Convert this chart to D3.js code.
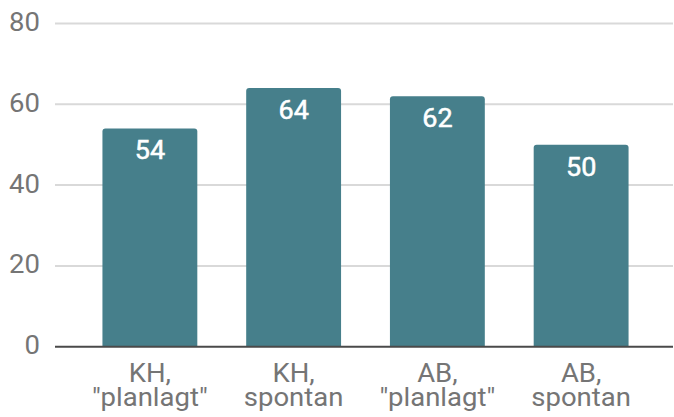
<!DOCTYPE html>
<html><head><meta charset="utf-8">
<script src="https://cdn.jsdelivr.net/npm/d3@7"></script>
<style>body{margin:0;background:#fff;}svg{display:block;font-family:Roboto,sans-serif;}</style>
</head><body>
<svg id="c" width="674" height="417"></svg>
<script>
const categories = [["KH,", "\"planlagt\""], ["KH,", "spontan"], ["AB,", "\"planlagt\""], ["AB,", "spontan"]];
const values = [54, 64, 62, 50];
const yTicks = [0, 20, 40, 60, 80];

const svg = d3.select("#c");
const x = d3.scaleBand().domain(d3.range(categories.length)).range([78, 653]).paddingInner(0.34).paddingOuter(0.17);
const y = d3.scaleLinear().domain([0, 80]).range([346.7, 23.4]);
const SX = 1.1;

// gridlines
svg.append("g").selectAll("line").data(yTicks.filter(d => d > 0)).join("line")
  .attr("x1", 55).attr("x2", 673).attr("y1", d => y(d)).attr("y2", d => y(d))
  .attr("stroke", "#d9d9d9").attr("stroke-width", 2);

// y labels
svg.append("g").selectAll("text").data(yTicks).join("text")
  .attr("transform", d => `translate(40,${y(d) + 7.5}) scale(${SX},1)`)
  .attr("text-anchor", "end")
  .attr("font-size", 25).attr("fill", "#757575").text(d => d);

// bars
const r = 3;
svg.append("g").selectAll("path").data(values).join("path")
  .attr("fill", "#467f8b")
  .attr("d", (d, i) => {
    const x0 = x(i), w = x.bandwidth(), t = y(d), b = y(0);
    return `M${x0},${b}V${t + r}Q${x0},${t} ${x0 + r},${t}H${x0 + w - r}Q${x0 + w},${t} ${x0 + w},${t + r}V${b}Z`;
  });

// value labels
svg.append("g").selectAll("text").data(values).join("text")
  .attr("transform", (d, i) => `translate(${x(i) + x.bandwidth() / 2},${y(d) + 31}) scale(1.08,1)`)
  .attr("text-anchor", "middle").attr("font-size", 25)
  .attr("stroke", "#ffffff").attr("stroke-width", 0.5)
  .attr("fill", "#ffffff").text(d => d);

// baseline
svg.append("line").attr("x1", 55).attr("x2", 673).attr("y1", y(0)).attr("y2", y(0))
  .attr("stroke", "#4a4a4a").attr("stroke-width", 2);

// x labels
const xl = svg.append("g").selectAll("text").data(categories).join("text")
  .attr("transform", (d, i) => `translate(${x(i) + x.bandwidth() / 2},0) scale(${SX},1)`)
  .attr("text-anchor", "middle").attr("font-size", 25).attr("fill", "#757575");
xl.each(function(d) {
  const t = d3.select(this);
  d.forEach((line, j) => {
    t.append("tspan").attr("x", 0).attr("y", 382 + j * 24).text(line);
  });
});
</script>
</body></html>
